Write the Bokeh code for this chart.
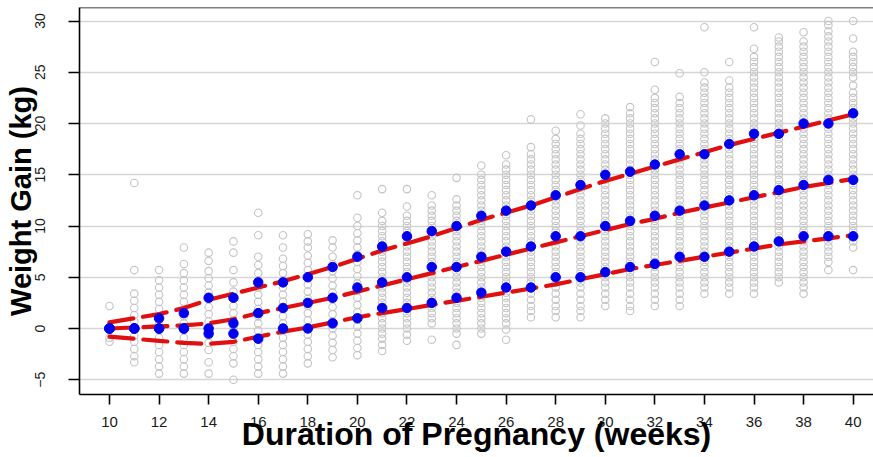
from bokeh.plotting import figure
from bokeh.models import FixedTicker, Span
from bokeh.embed import file_html
from bokeh.resources import INLINE

# ---------------- data ----------------
WEEKS = [10, 11, 12, 13, 14, 15, 16, 17, 18, 19, 20, 21, 22, 23, 24, 25,
         26, 27, 28, 29, 30, 31, 32, 33, 34, 35, 36, 37, 38, 39, 40]

# blue dots: weekly percentiles (upper, median, lower)
P_UPPER = [0, 0, 1, 1.5, 3, 3, 4.5, 4.5, 5, 6, 7, 8, 9, 9.5, 10, 11, 11.5, 12,
           13, 14, 15, 15.3, 16, 17, 17, 18, 19, 19, 20, 20, 21]
P_MID = [0, 0, 0, 0, 0, 0.5, 1.5, 2, 2.5, 3, 4, 4.5, 5, 6, 6, 7, 7.5, 8, 9, 9,
         10, 10.5, 11, 11.5, 12, 12.5, 13, 13.5, 14, 14.5, 14.5]
P_LOWER = [0, 0, 0, 0, -0.5, -0.5, -1, 0, 0, 0.5, 1, 2, 2, 2.5, 3, 3.5, 4, 4,
           5, 5, 5.5, 6, 6.3, 7, 7, 7.5, 8, 8.5, 9, 9, 9]

# red dashed: smoothed curves
FIT_UPPER = [0.6, 1.0, 1.4, 2.0, 2.8, 3.4, 4.0, 4.6, 5.3, 6.0, 6.8, 7.6, 8.3,
             9.0, 9.8, 10.6, 11.3, 12.0, 12.8, 13.6, 14.4, 15.1, 15.8, 16.5,
             17.2, 17.9, 18.5, 19.1, 19.7, 20.3, 20.9]
FIT_MID = [0.0, 0.1, 0.2, 0.3, 0.5, 0.9, 1.5, 2.0, 2.5, 3.0, 3.6, 4.2, 4.8, 5.4,
           6.0, 6.6, 7.2, 7.8, 8.4, 9.0, 9.6, 10.2, 10.7, 11.3, 11.8, 12.3,
           12.8, 13.3, 13.8, 14.2, 14.6]
FIT_LOWER = [-0.8, -1.0, -1.2, -1.4, -1.5, -1.3, -0.8, -0.3, 0.1, 0.6, 1.1, 1.5,
             1.9, 2.3, 2.7, 3.1, 3.5, 3.9, 4.3, 4.8, 5.3, 5.8, 6.2, 6.6, 7.0,
             7.4, 7.8, 8.2, 8.5, 8.8, 9.1]

# grey circles: individual weight gains per week
w10 = [-1.3, -0.9, 0.0, 2.2]
w11 = [-3.3, -2.7, -2.0, -1.3, -0.7, 0.0, 0.7, 1.3, 2.0, 2.7, 3.4, 5.7, 14.2]
w12 = [-4.4, -3.7, -3.0, -2.3, -1.6, -0.9, -0.2, 0.5, 1.2, 1.9, 2.6, 3.3, 4.0, 4.7, 5.7]
w13 = [-4.4, -3.7, -3.0, -2.3, -1.6, -0.9, -0.2, 0.5, 1.2, 1.9, 2.6, 3.3, 4.0, 4.7, 5.4, 6.3, 7.9]
w14 = [-4.4, -3.3, -2.1, -1.4, -0.7, 0.0, 0.7, 1.4, 2.1, 2.8, 3.5, 4.2, 4.9, 5.6, 6.6, 7.4]
w15 = [-5.0, -3.4, -2.7, -2.0, -1.3, -0.6, 0.1, 0.8, 1.5, 2.2, 2.9, 3.6, 4.5, 5.7, 7.4, 8.5]
w16 = [-4.4, -3.7, -3.0, -2.3, -1.6, -0.9, -0.2, 0.5, 1.2, 1.9, 2.6, 3.3, 4.0, 4.7, 5.4, 6.2, 7.0, 9.1, 11.3]
w17 = [-4.4, -3.7, -3.0, -2.3, -1.6, -0.9, -0.2, 0.5, 1.2, 1.9, 2.6, 3.3, 4.0, 4.7, 5.4, 6.1, 6.8, 7.9, 9.1]
w18 = [-3.4, -2.7, -2.0, -1.3, -0.6, 0.1, 0.8, 1.5, 2.2, 2.9, 3.6, 4.3, 5.0, 5.7, 6.4, 7.1, 7.9, 8.5, 9.2]
w19 = [-2.8, -2.1, -1.4, -0.7, 0.0, 0.7, 1.4, 2.1, 2.8, 3.5, 4.2, 4.9, 5.6, 6.3, 7.0, 7.9, 8.6]
w20 = [-2.6, -1.9, -1.2, -0.5, 0.2, 0.9, 1.6, 2.3, 3.0, 3.7, 4.4, 5.1, 5.8, 6.5, 7.2, 7.9, 8.6, 9.3, 10.0, 10.8, 13.0]
w21 = [-2.2, -1.6, -1.0, -0.5, 0.0, 0.5, 1.0, 1.5, 2.0, 2.5, 3.0, 3.5, 4.0, 4.5, 5.0, 5.5, 6.0, 6.5,
       7.0, 7.5, 8.0, 8.5, 9.0, 9.5, 10.0, 10.5, 11.3, 13.6]
w22 = [-1.2, -0.6, 0.0, 0.5, 1.0, 1.5, 2.0, 2.5, 3.0, 3.5, 4.0, 4.5, 5.0, 5.5, 6.0, 6.5, 7.0, 7.5,
       8.0, 8.5, 9.0, 9.5, 10.0, 10.5, 11.0, 11.9, 13.6]
w23 = [-1.1, 0.5, 1.0, 1.5, 2.0, 2.5, 3.0, 3.5, 4.0, 4.5, 5.0, 5.5, 6.0, 6.5, 7.0, 7.5, 8.0, 8.5,
       9.0, 9.5, 10.0, 10.5, 11.0, 11.5, 12.0, 13.0]
w24 = [-1.6, -0.5, 0.0, 0.5, 1.0, 1.5, 2.0, 2.5, 3.0, 3.5, 4.0, 4.5, 5.0, 5.5, 6.0, 6.5, 7.0, 7.5,
       8.0, 8.5, 9.0, 9.5, 10.0, 10.5, 11.0, 11.5, 12.0, 12.6, 14.7]
w25 = [-0.5, 0.0, 0.5, 1.0, 1.5, 2.0, 2.5, 3.0, 3.5, 4.0, 4.5, 5.0, 5.5, 6.0, 6.5, 7.0, 7.5, 8.0,
       8.5, 9.0, 9.5, 10.0, 10.5, 11.0, 11.5, 12.0, 12.5, 13.0, 13.5, 14.0, 14.5, 15.0, 15.9]
w26 = [-1.1, -0.1, 0.5, 1.0, 1.5, 2.0, 2.5, 3.0, 3.5, 4.0, 4.5, 5.0, 5.5, 6.0, 6.5, 7.0, 7.5, 8.0,
       8.5, 9.0, 9.5, 10.0, 10.5, 11.0, 11.5, 12.0, 12.5, 13.0, 13.5, 14.0, 14.5, 15.0, 15.5, 16.0,
       16.9]
w27 = [1.1, 1.7, 2.2, 2.8, 3.4, 4.0, 4.5, 5.0, 5.5, 6.0, 6.5, 7.0, 7.5, 8.0, 8.5, 9.0, 9.5, 10.0,
       10.5, 11.0, 11.5, 12.0, 12.5, 13.0, 13.5, 14.0, 14.5, 15.0, 15.5, 16.0, 16.5, 17.0, 17.7, 20.4]
w28 = [1.1, 1.7, 2.2, 2.8, 3.4, 4.0, 4.5, 5.0, 5.5, 6.0, 6.5, 7.0, 7.5, 8.0, 8.5, 9.0, 9.5, 10.0,
       10.5, 11.0, 11.5, 12.0, 12.5, 13.0, 13.5, 14.0, 14.5, 15.0, 15.5, 16.0, 16.5, 17.0, 17.5,
       18.0, 18.5, 19.3]
w29 = [1.1, 1.7, 2.2, 2.8, 3.4, 4.0, 4.5, 5.0, 5.5, 6.0, 6.5, 7.0, 7.5, 8.0, 8.5, 9.0, 9.5, 10.0,
       10.5, 11.0, 11.5, 12.0, 12.5, 13.0, 13.5, 14.0, 14.5, 15.0, 15.5, 16.0, 16.5, 17.0, 17.5,
       18.0, 18.5, 19.0, 19.8, 20.9]
w30 = [2.2, 2.8, 3.4, 4.0, 4.5, 5.0, 5.5, 6.0, 6.5, 7.0, 7.5, 8.0, 8.5, 9.0, 9.5, 10.0, 10.5,
       11.0, 11.5, 12.0, 12.5, 13.0, 13.5, 14.0, 14.5, 15.0, 15.5, 16.0, 16.5, 17.0, 17.5, 18.0,
       18.5, 19.0, 19.5, 20.0, 20.5]
w31 = [1.7, 2.2, 2.8, 3.4, 4.0, 4.5, 5.0, 5.5, 6.0, 6.5, 7.0, 7.5, 8.0, 8.5, 9.0, 9.5, 10.0, 10.5,
       11.0, 11.5, 12.0, 12.5, 13.0, 13.5, 14.0, 14.5, 15.0, 15.5, 16.0, 16.5, 17.0, 17.5, 18.0,
       18.5, 19.0, 19.5, 20.0, 20.5, 21.0, 21.6]
w32 = [2.2, 2.8, 3.4, 4.0, 4.5, 5.0, 5.5, 6.0, 6.5, 7.0, 7.5, 8.0, 8.5, 9.0, 9.5, 10.0, 10.5, 11.0,
       11.5, 12.0, 12.5, 13.0, 13.5, 14.0, 14.5, 15.0, 15.5, 16.0, 16.5, 17.0, 17.5, 18.0, 18.5,
       19.0, 19.5, 20.0, 20.5, 21.0, 21.5, 22.0, 22.5, 23.3, 26.0]
w33 = [2.2, 2.8, 3.4, 4.0, 4.5, 5.0, 5.5, 6.0, 6.5, 7.0, 7.5, 8.0, 8.5, 9.0, 9.5, 10.0, 10.5, 11.0,
       11.5, 12.0, 12.5, 13.0, 13.5, 14.0, 14.5, 15.0, 15.5, 16.0, 16.5, 17.0, 17.5, 18.0, 18.5,
       19.0, 19.5, 20.0, 20.5, 21.0, 21.5, 22.0, 22.6, 24.9]
w34 = [3.4, 4.0, 4.5, 5.0, 5.5, 6.0, 6.5, 7.0, 7.5, 8.0, 8.5, 9.0, 9.5, 10.0, 10.5, 11.0, 11.5,
       12.0, 12.5, 13.0, 13.5, 14.0, 14.5, 15.0, 15.5, 16.0, 16.5, 17.0, 17.5, 18.0, 18.5, 19.0,
       19.5, 20.0, 20.5, 21.0, 21.5, 22.0, 22.5, 23.0, 23.5, 24.0, 25.0, 29.4]
w35 = [3.4, 4.0, 4.5, 5.0, 5.5, 6.0, 6.5, 7.0, 7.5, 8.0, 8.5, 9.0, 9.5, 10.0, 10.5, 11.0, 11.5,
       12.0, 12.5, 13.0, 13.5, 14.0, 14.5, 15.0, 15.5, 16.0, 16.5, 17.0, 17.5, 18.0, 18.5, 19.0,
       19.5, 20.0, 20.5, 21.0, 21.5, 22.0, 22.5, 23.0, 23.5, 24.2, 26.0]
w36 = [3.4, 4.0, 4.5, 5.0, 5.5, 6.0, 6.5, 7.0, 7.5, 8.0, 8.5, 9.0, 9.5, 10.0, 10.5, 11.0, 11.5,
       12.0, 12.5, 13.0, 13.5, 14.0, 14.5, 15.0, 15.5, 16.0, 16.5, 17.0, 17.5, 18.0, 18.5, 19.0,
       19.5, 20.0, 20.5, 21.0, 21.5, 22.0, 22.5, 23.0, 23.5, 24.0, 24.5, 25.0, 25.5, 26.0, 26.5,
       27.3, 29.4]
w37 = [4.5, 5.0, 5.5, 6.0, 6.5, 7.0, 7.5, 8.0, 8.5, 9.0, 9.5, 10.0, 10.5, 11.0, 11.5, 12.0, 12.5,
       13.0, 13.5, 14.0, 14.5, 15.0, 15.5, 16.0, 16.5, 17.0, 17.5, 18.0, 18.5, 19.0, 19.5, 20.0,
       20.5, 21.0, 21.5, 22.0, 22.5, 23.0, 23.5, 24.0, 24.5, 25.0, 25.5, 26.0, 26.5, 27.0, 27.5,
       28.0, 28.4]
w38 = [3.4, 4.0, 4.5, 5.0, 5.5, 6.0, 6.5, 7.0, 7.5, 8.0, 8.5, 9.0, 9.5, 10.0, 10.5, 11.0, 11.5,
       12.0, 12.5, 13.0, 13.5, 14.0, 14.5, 15.0, 15.5, 16.0, 16.5, 17.0, 17.5, 18.0, 18.5, 19.0,
       19.5, 20.0, 20.5, 21.0, 21.5, 22.0, 22.5, 23.0, 23.5, 24.0, 24.5, 25.0, 25.5, 26.0, 26.5,
       27.0, 27.5, 28.0, 28.9]
w39 = [5.7, 6.5, 7.0, 7.5, 8.0, 8.5, 9.0, 9.5, 10.0, 10.5, 11.0, 11.5, 12.0, 12.5, 13.0, 13.5,
       14.0, 14.5, 15.0, 15.5, 16.0, 16.5, 17.0, 17.5, 18.0, 18.5, 19.0, 19.5, 20.0, 20.5, 21.0,
       21.5, 22.0, 22.5, 23.0, 23.5, 24.0, 24.5, 25.0, 25.5, 26.0, 26.5, 27.0, 27.5, 28.0, 28.5,
       29.0, 29.6, 30.0]
w40 = [5.7, 7.9, 8.5, 9.0, 9.5, 10.0, 10.5, 11.0, 11.5, 12.0, 12.5, 13.0, 13.5, 14.0, 14.5, 15.0,
       15.5, 16.0, 16.5, 17.0, 17.5, 18.0, 18.5, 19.0, 19.5, 20.0, 20.5, 21.0, 21.5, 22.0, 22.5,
       23.0, 23.7, 24.5, 25.0, 25.5, 26.0, 26.5, 27.0, 28.3, 30.0]

GAIN_BY_WEEK = [w10, w11, w12, w13, w14, w15, w16, w17, w18, w19, w20, w21, w22, w23, w24,
                w25, w26, w27, w28, w29, w30, w31, w32, w33, w34, w35, w36, w37, w38, w39, w40]

X_TICKS = [10, 12, 14, 16, 18, 20, 22, 24, 26, 28, 30, 32, 34, 36, 38, 40]
Y_TICKS = [-5, 0, 5, 10, 15, 20, 25, 30]
X_TITLE = "Duration of Pregnancy (weeks)"
Y_TITLE = "Weight Gain (kg)"

# ---------------- plot ----------------
FONT = "Liberation Sans"
Y_TOP = 31.32

p = figure(width=873, height=457, x_range=(8.79, 40.82), y_range=(-6.44, Y_TOP),
           output_backend="svg", toolbar_location=None,
           min_border_left=79, min_border_right=0, min_border_top=7, min_border_bottom=63)
p.outline_line_color = None
p.background_fill_color = "white"
p.border_fill_color = "white"

p.xgrid.visible = False
p.ygrid.grid_line_color = "#d6d6d6"
p.ygrid.grid_line_width = 1.5

p.xaxis.ticker = FixedTicker(ticks=X_TICKS)
p.yaxis.ticker = FixedTicker(ticks=Y_TICKS)
for ax in (p.xaxis, p.yaxis):
    ax.axis_line_color = "black"
    ax.axis_line_width = 1.6
    ax.major_tick_line_color = "black"
    ax.major_tick_line_width = 1.6
    ax.major_tick_in = 0
    ax.minor_tick_line_color = None
    ax.major_label_text_font = FONT
    ax.major_label_text_color = "#1a1a1a"
    ax.axis_label_text_font = FONT
    ax.axis_label_text_font_style = "bold"
    ax.axis_label_text_color = "black"

p.xaxis.major_tick_out = 10
p.xaxis.major_label_standoff = 12
p.xaxis.major_label_text_font_size = "15px"
p.xaxis.axis_label = X_TITLE
p.xaxis.axis_label_text_font_size = "32px"
p.xaxis.axis_label_standoff = -14

p.yaxis.major_tick_out = 11
p.yaxis.major_label_standoff = 23
p.yaxis.major_label_text_font_size = "14px"
p.yaxis.major_label_orientation = "vertical"
p.yaxis.axis_label = Y_TITLE
p.yaxis.axis_label_text_font_size = "29px"
p.yaxis.axis_label_standoff = -4

p.add_layout(Span(location=Y_TOP, dimension="width", line_color="black", line_width=1.6))

xs, ys = [], []
for wk, vals in zip(WEEKS, GAIN_BY_WEEK):
    for v in vals:
        xs.append(wk)
        ys.append(v)
p.scatter(xs, ys, size=7.5, marker="circle", fill_color=None,
          line_color="#c4c4c4", line_width=1.1)

for fit in (FIT_UPPER, FIT_MID, FIT_LOWER):
    p.line(WEEKS, fit, line_color="#e01010", line_width=4.2,
           line_dash="24 10", line_cap="round")

for pc in (P_UPPER, P_MID, P_LOWER):
    p.scatter(WEEKS, pc, size=9.5, marker="circle", fill_color="#0000ee",
              line_color="#0000ee")

open("out.html", "w").write(file_html(p, INLINE))
